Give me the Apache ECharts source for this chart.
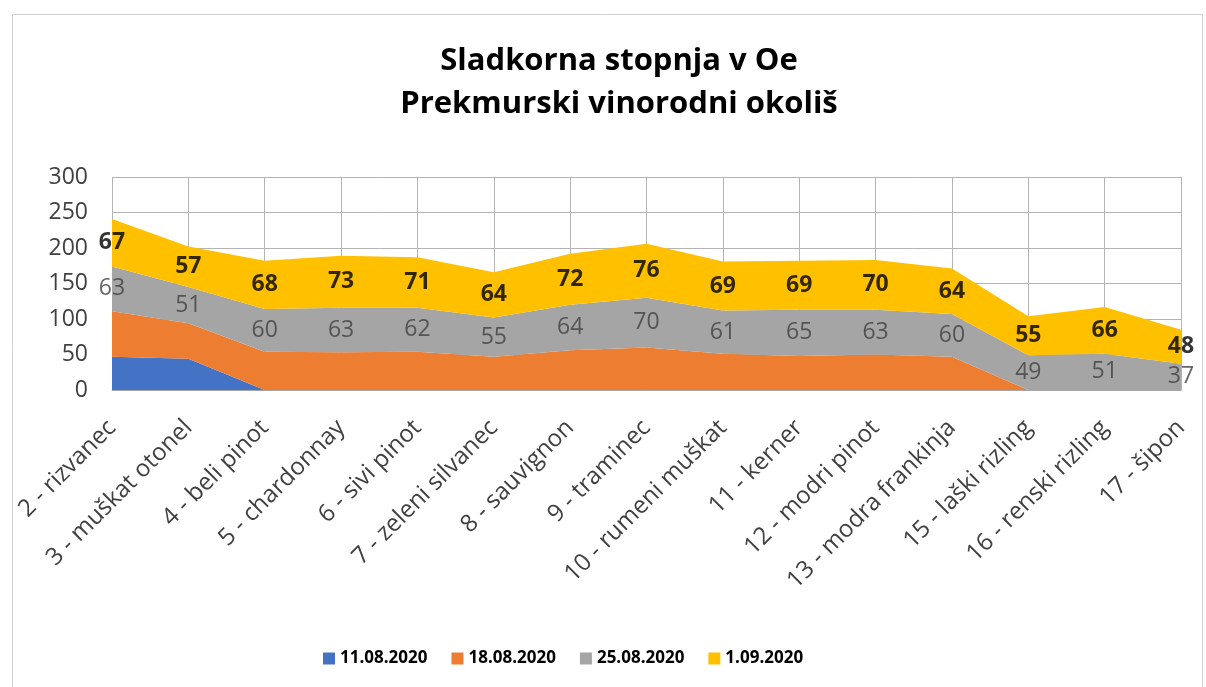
<!DOCTYPE html>
<html><head><meta charset="utf-8">
<script src="https://cdn.jsdelivr.net/npm/echarts@6/dist/echarts.min.js"></script>
<style>html,body{margin:0;padding:0;background:#fff}#c{width:1206px;height:687px}</style>
</head><body><div id="c"></div>
<script>
const categories = ['2 - rizvanec','3 - muškat otonel','4 - beli pinot','5 - chardonnay','6 - sivi pinot','7 - zeleni silvanec','8 - sauvignon','9 - traminec','10 - rumeni muškat','11 - kerner','12 - modri pinot','13 - modra frankinja','15 - laški rizling','16 - renski rizling','17 - šipon'];
const seriesNames = ['11.08.2020','18.08.2020','25.08.2020','1.09.2020'];
const s1 = [47,44,0,0,0,0,0,0,0,0,0,0,0,0,0];
const s2 = [64,50,54,53,54,47,56,60,51,48,50,47,0,0,0];
const s3 = [63,51,60,63,62,55,64,70,61,65,63,60,49,51,37];
const s4 = [67,57,68,73,71,64,72,76,69,69,70,64,55,66,48];
const colors = ['#4472C4','#ED7D31','#A5A5A5','#FFC000'];
const FONT = '"Open Sans", "Noto Sans", sans-serif';

const all = [s1,s2,s3,s4];
const areaSeries = all.map((d,k)=>({
  name: seriesNames[k], type:'line', stack:'total', data:d,
  showSymbol:false, symbol:'none', lineStyle:{width:0},
  areaStyle:{color:colors[k], opacity:1}, itemStyle:{color:colors[k]},
  silent:true, z:2
}));
function mids(k){
  return all[k].map((v,i)=>{
    let base=0; for(let j=0;j<k;j++) base+=all[j][i];
    return [i, base+v/2, v];
  });
}
const labelGray = {type:'scatter', data:mids(2), symbolSize:0, z:5, silent:true,
  label:{show:true, position:'inside', formatter:p=>p.data[2], fontFamily:FONT, fontSize:23, color:'#404040'}};
const labelYellow = {type:'scatter', data:mids(3), symbolSize:0, z:5, silent:true,
  label:{show:true, position:'inside', formatter:p=>p.data[2], fontFamily:FONT, fontSize:23, fontWeight:'bold', color:'#000'}};

const chart = echarts.init(document.getElementById('c'), null, {renderer:'canvas'});
chart.setOption({
  animation:false,
  backgroundColor:'#fff',
  graphic:[{type:'rect', shape:{x:12.5,y:14.5,width:1190,height:680}, style:{fill:'none', stroke:'#d0d0d0', lineWidth:1}}],
  title:{text:'Sladkorna stopnja v Oe\nPrekmurski vinorodni okoliš', left:614, textAlign:'center', top:35,
    textStyle:{fontFamily:FONT, fontSize:31, fontWeight:'bold', color:'#000', lineHeight:43}},
  legend:{data:seriesNames, left:318, top:645, icon:'rect', itemWidth:12, itemHeight:12, itemGap:24,
    textStyle:{fontFamily:FONT, fontSize:17, fontWeight:'bold', color:'#000'}},
  grid:{left:112, right:25, top:177, bottom:297, containLabel:false},
  xAxis:{type:'category', data:categories, boundaryGap:false,
    axisLine:{show:true, lineStyle:{color:'#a6a6a6', width:1}}, axisTick:{show:false},
    splitLine:{show:true, lineStyle:{color:'#b4b4b4', width:1}},
    axisLabel:{rotate:45, fontFamily:FONT, fontSize:24, color:'#404040', margin:34, interval:0}},
  yAxis:{type:'value', min:0, max:300, interval:50,
    axisLine:{show:false}, axisTick:{show:false},
    splitLine:{show:true, lineStyle:{color:'#b4b4b4', width:1}},
    axisLabel:{fontFamily:FONT, fontSize:23, color:'#404040', margin:24}},
  series:[...areaSeries, labelGray, labelYellow]
});
</script></body></html>
